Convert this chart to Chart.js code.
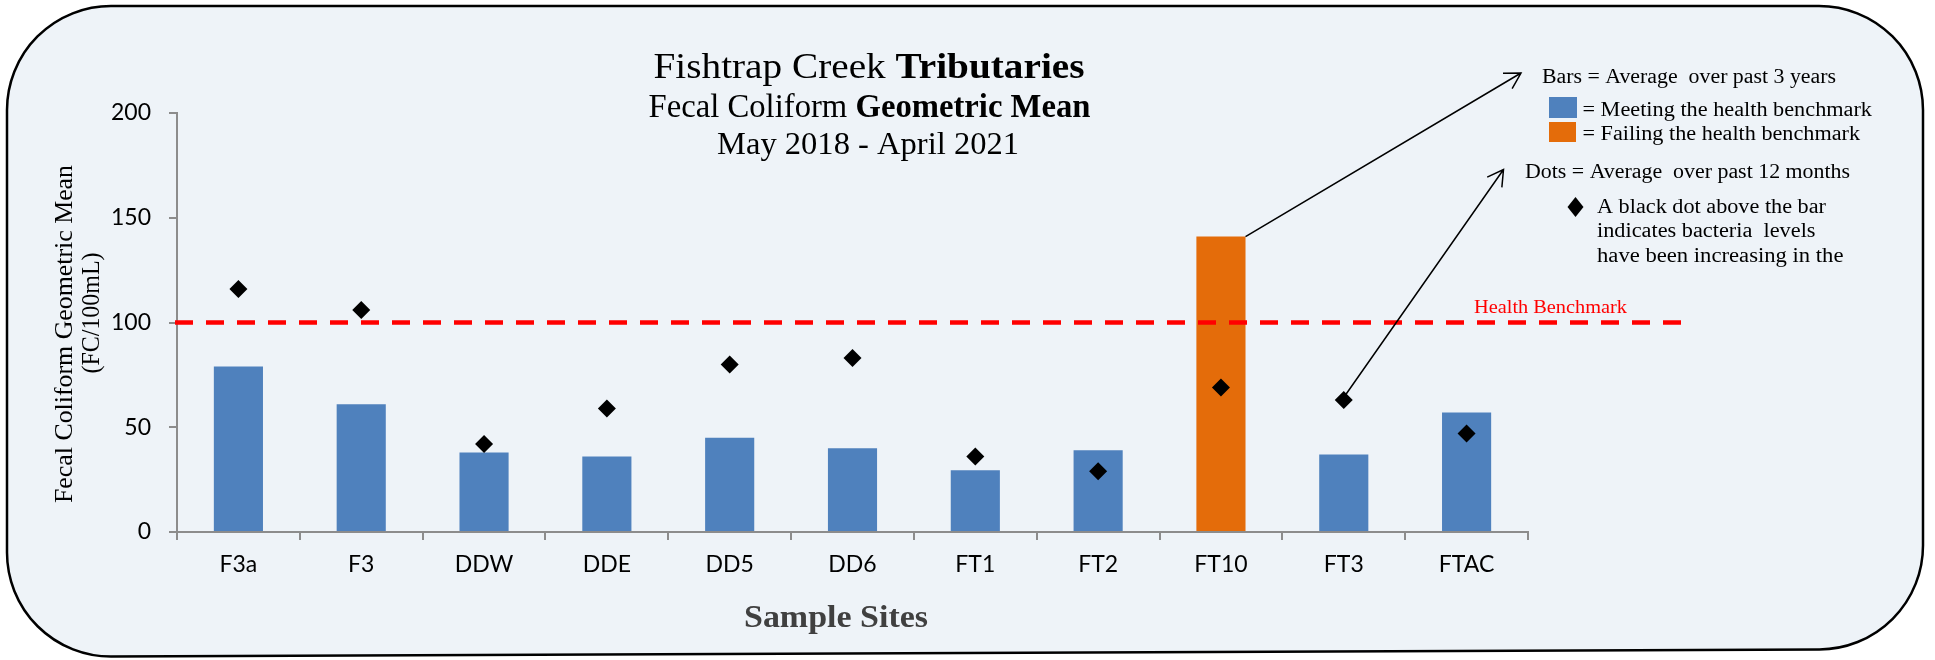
<!DOCTYPE html>
<html>
<head>
<meta charset="utf-8">
<script src="https://cdn.jsdelivr.net/npm/chart.js@4"></script>
<style>
  body { margin: 0; background: #ffffff; }
  canvas { display: block; }
</style>
</head>
<body>
<canvas id="creekChart" width="1935" height="660"></canvas>
<script>
// sample sites and geometric means (FC/100mL)
var sites = ['F3a', 'F3', 'DDW', 'DDE', 'DD5', 'DD6', 'FT1', 'FT2', 'FT10', 'FT3', 'FTAC'];
var threeYearMean = [79, 61, 38, 36, 45, 40, 29.5, 39, 141, 37, 57];
var twelveMonthMean = [116, 106, 42, 59, 80, 83, 36, 29, 69, 63, 47];
var yTicks = [0, 50, 100, 150, 200];
var benchmark = 100;

var BLUE = '#4f81bd';
var ORANGE = '#e46c0a';
var AXIS = '#8c8c8c';
var SERIF = '"Liberation Serif", "Times New Roman", serif';

// draws runs of [text, bold] squeezed/stretched to a given width
function fitText(ctx, runs, x, y, width, size, align, color) {
  var total = 0;
  runs.forEach(function (r) {
    ctx.font = (r[1] ? 'bold ' : '') + size + 'px ' + SERIF;
    total += ctx.measureText(r[0]).width;
  });
  var sx = width / total;
  ctx.save();
  ctx.translate(x, y);
  ctx.scale(sx, 1);
  ctx.textAlign = 'left';
  ctx.textBaseline = 'alphabetic';
  ctx.fillStyle = color || '#000';
  var cx = align === 'center' ? -total / 2 : 0;
  runs.forEach(function (r) {
    ctx.font = (r[1] ? 'bold ' : '') + size + 'px ' + SERIF;
    ctx.fillText(r[0], cx, 0);
    cx += ctx.measureText(r[0]).width;
  });
  ctx.restore();
}

function arrow(ctx, x1, y1, x2, y2) {
  var a = Math.atan2(y2 - y1, x2 - x1);
  var len = 18, spread = 0.52;
  ctx.beginPath();
  ctx.moveTo(x1, y1);
  ctx.lineTo(x2, y2);
  ctx.moveTo(x2 - len * Math.cos(a - spread), y2 - len * Math.sin(a - spread));
  ctx.lineTo(x2, y2);
  ctx.lineTo(x2 - len * Math.cos(a + spread), y2 - len * Math.sin(a + spread));
  ctx.stroke();
}

var frame = {
  id: 'frame',
  beforeDraw: function (chart) {
    var ctx = chart.ctx;
    ctx.save();
    ctx.fillStyle = '#ffffff';
    ctx.fillRect(0, 0, chart.width, chart.height);
    var l = 7, t = 6, r = 1923, bl = 657, br = 649, rad = 104;
    ctx.beginPath();
    ctx.moveTo(l + rad, t);
    ctx.arcTo(r, t, r, br, rad);
    ctx.arcTo(r, br, l, bl, rad);
    ctx.arcTo(l, bl, l, t, rad);
    ctx.arcTo(l, t, r, t, rad);
    ctx.closePath();
    ctx.fillStyle = '#eef3f8';
    ctx.fill();
    ctx.lineWidth = 2.5;
    ctx.strokeStyle = '#000';
    ctx.stroke();
    ctx.restore();
  }
};

var benchmarkLine = {
  id: 'benchmarkLine',
  afterDatasetDraw: function (chart, args) {
    if (args.index !== 0) return;
    var ctx = chart.ctx;
    var y = chart.scales.y.getPixelForValue(benchmark);
    ctx.save();
    ctx.strokeStyle = '#ff0000';
    ctx.lineWidth = 4.5;
    ctx.setLineDash([18, 13]);
    ctx.beginPath();
    ctx.moveTo(chart.chartArea.left - 2, y);
    ctx.lineTo(1688, y);
    ctx.stroke();
    ctx.restore();
  }
};

var notes = {
  id: 'notes',
  afterDraw: function (chart) {
    var ctx = chart.ctx;
    ctx.save();
    // title
    fitText(ctx, [['Fishtrap Creek ', false], ['Tributaries', true]], 869, 78, 431, 35, 'center');
    fitText(ctx, [['Fecal Coliform ', false], ['Geometric Mean', true]], 869.5, 117, 442, 33, 'center');
    fitText(ctx, [['May 2018 - April 2021', false]], 868, 154, 302, 31, 'center');

    // y axis title
    ctx.save();
    ctx.translate(72, 334);
    ctx.rotate(-Math.PI / 2);
    fitText(ctx, [['Fecal Coliform Geometric Mean', false]], 0, 0, 338, 25, 'center');
    ctx.restore();
    ctx.save();
    ctx.translate(99, 313);
    ctx.rotate(-Math.PI / 2);
    fitText(ctx, [['(FC/100mL)', false]], 0, 0, 121, 25, 'center');
    ctx.restore();

    // x axis title
    fitText(ctx, [['Sample Sites', true]], 836, 627, 184, 31, 'center', '#404040');

    // benchmark label
    fitText(ctx, [['Health Benchmark', false]], 1474, 313, 153, 19, 'left', '#ff0000');

    // key
    fitText(ctx, [['Bars = Average  over past 3 years', false]], 1542, 83, 294, 20, 'left');
    ctx.fillStyle = BLUE;
    ctx.fillRect(1549, 97, 28, 21);
    ctx.fillStyle = ORANGE;
    ctx.fillRect(1549, 122, 27, 20);
    fitText(ctx, [['= Meeting the health benchmark', false]], 1582.5, 116, 289.5, 20, 'left');
    fitText(ctx, [['= Failing the health benchmark', false]], 1582.5, 140, 277.5, 20, 'left');
    fitText(ctx, [['Dots = Average  over past 12 months', false]], 1525, 178, 325, 20, 'left');
    ctx.fillStyle = '#000';
    ctx.beginPath();
    ctx.moveTo(1575.5, 197);
    ctx.lineTo(1583.5, 207);
    ctx.lineTo(1575.5, 217);
    ctx.lineTo(1567.5, 207);
    ctx.closePath();
    ctx.fill();
    fitText(ctx, [['A black dot above the bar', false]], 1597, 213, 229, 20, 'left');
    fitText(ctx, [['indicates bacteria  levels', false]], 1597, 237, 218.5, 20, 'left');
    fitText(ctx, [['have been increasing in the', false]], 1597, 261.5, 246.5, 20, 'left');

    // arrows from the FT10 bar and the FT3 dot to the key
    ctx.strokeStyle = '#000';
    ctx.lineWidth = 1.5;
    var bar = chart.getDatasetMeta(0).data[8];
    arrow(ctx, bar.x + bar.width / 2, bar.y, 1521, 73);
    var dot = chart.getDatasetMeta(1).data[9];
    arrow(ctx, dot.x + 1, dot.y - 4, 1503.5, 169.5);
    ctx.restore();
  }
};

var ctx = document.getElementById('creekChart').getContext('2d');
var creekChart = new Chart(ctx, {
  type: 'bar',
  data: {
    labels: sites,
    datasets: [{
      type: 'bar',
      data: threeYearMean,
      backgroundColor: threeYearMean.map(function (v) { return v > benchmark ? ORANGE : BLUE; }),
      barPercentage: 0.4,
      categoryPercentage: 1.0,
      order: 2
    }, {
      type: 'line',
      data: twelveMonthMean,
      showLine: false,
      pointStyle: 'rectRot',
      pointRadius: 9,
      pointBackgroundColor: '#000',
      pointBorderWidth: 0,
      order: 1
    }]
  },
  options: {
    responsive: false,
    animation: false,
    events: [],
    layout: { padding: { left: 0, top: 113, right: 407, bottom: 0 } },
    plugins: {
      legend: { display: false },
      tooltip: { enabled: false }
    },
    scales: {
      x: {
        grid: { drawOnChartArea: false, tickLength: 8, color: AXIS, lineWidth: 2 },
        border: { color: AXIS, width: 2 },
        ticks: { color: '#000', font: { family: 'Lato', size: 23 }, padding: 11 },
        afterFit: function (s) { s.height = 128; }
      },
      y: {
        min: 0,
        max: 200,
        afterBuildTicks: function (s) { s.ticks = yTicks.map(function (v) { return { value: v }; }); },
        grid: { drawOnChartArea: false, tickLength: 8, color: AXIS, lineWidth: 2 },
        border: { color: AXIS, width: 2 },
        ticks: { color: '#000', font: { family: 'Lato', size: 23 }, padding: 18 },
        afterFit: function (s) { s.width = 177; }
      }
    }
  },
  plugins: [frame, benchmarkLine, notes]
});
</script>
</body>
</html>
